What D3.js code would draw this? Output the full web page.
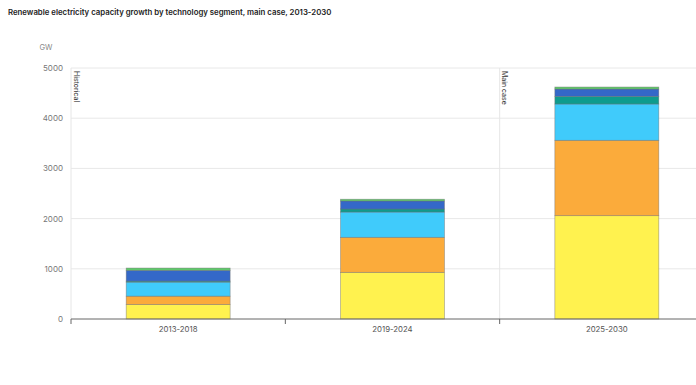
<!DOCTYPE html>
<html>
<head>
<meta charset="utf-8">
<script src="https://cdn.jsdelivr.net/npm/d3@7"></script>
<style>
  body { margin: 0; background: #fff; }
  svg { display: block; font-family: Inter, "Open Sans", sans-serif; }
</style>
</head>
<body>
<div id="chart"></div>
<script>
// periods on the x axis
const periods = ["2013-2018", "2019-2024", "2025-2030"];

// stacked segments, bottom to top (GW)
const segments = ["Segment 1", "Segment 2", "Segment 3", "Segment 4", "Segment 5", "Segment 6"];
const seg1 = [290, 930, 2058];
const seg2 = [165, 697, 1502];
const seg3 = [280, 504, 723];
const seg4 = [20, 60, 153];
const seg5 = [215, 160, 145];
const seg6 = [45, 35, 40];
const segColors = ["#fff24f", "#fbab3b", "#40cbfb", "#0e9b8d", "#3468c8", "#5fcb6b"];

const yTicks = [0, 1000, 2000, 3000, 4000, 5000];
const markers = [
  { label: "Historical", period: 0 },
  { label: "Main case", period: 2 }
];

const width = 696, height = 385;
const margin = { top: 68, left: 71, bottom: 66 };

const svg = d3.select("#chart").append("svg")
  .attr("width", width)
  .attr("height", height);

svg.append("text")
  .attr("x", 8).attr("y", 15)
  .attr("font-size", 7.8)
  .attr("font-weight", 600)
  .attr("fill", "#222")
  .text("Renewable electricity capacity growth by technology segment, main case, 2013-2030");

svg.append("text")
  .attr("x", 46).attr("y", 50)
  .attr("font-size", 7.5)
  .attr("text-anchor", "middle")
  .attr("fill", "#888")
  .text("GW");

// the plot runs past the right edge of the window, like the original
const x = d3.scaleBand()
  .domain(periods)
  .range([margin.left, 714])
  .paddingInner(0.515)
  .paddingOuter(0.2575);

const y = d3.scaleLinear()
  .domain([0, 5000])
  .range([height - margin.bottom, margin.top]);

// gridlines
svg.append("g")
  .selectAll("line")
  .data(yTicks.slice(1))
  .join("line")
  .attr("x1", margin.left).attr("x2", width)
  .attr("y1", d => y(d)).attr("y2", d => y(d))
  .attr("stroke", "#e8e8e8")
  .attr("stroke-width", 1);

// y tick labels
svg.append("g")
  .selectAll("text")
  .data(yTicks)
  .join("text")
  .attr("x", 63)
  .attr("y", d => y(d) + 3)
  .attr("text-anchor", "end")
  .attr("font-size", 8)
  .attr("fill", "#777")
  .text(d => d);

// period markers (vertical line + rotated label)
const step = x.step();
const bandStart = i => margin.left + i * step;
markers.forEach(m => {
  const mx = bandStart(m.period);
  svg.append("line")
    .attr("x1", mx).attr("x2", mx)
    .attr("y1", y(5000)).attr("y2", y(0))
    .attr("stroke", "#e6e6e6");
  svg.append("text")
    .attr("transform", `translate(${mx + 2.5},${y(5000) + 3}) rotate(90)`)
    .attr("font-size", 7)
    .attr("fill", "#333")
    .text(m.label);
});

// stack
const table = periods.map((p, i) => {
  const row = { period: p };
  [seg1, seg2, seg3, seg4, seg5, seg6].forEach((s, k) => row[segments[k]] = s[i]);
  return row;
});
const stacked = d3.stack().keys(segments)(table);

svg.append("g")
  .selectAll("g")
  .data(stacked)
  .join("g")
  .attr("fill", (d, i) => segColors[i])
  .selectAll("rect")
  .data(d => d)
  .join("rect")
  .attr("x", d => x(d.data.period))
  .attr("y", d => y(d[1]))
  .attr("width", x.bandwidth())
  .attr("height", d => y(d[0]) - y(d[1]))
  .attr("stroke", "#6f6f6f")
  .attr("stroke-opacity", 0.6)
  .attr("stroke-width", 0.7);

// x axis
const xAxis = svg.append("g")
  .attr("transform", `translate(0,${y(0)})`);
xAxis.append("line")
  .attr("x1", margin.left).attr("x2", width)
  .attr("stroke", "#666");
xAxis.selectAll(".tick")
  .data(d3.range(periods.length + 1))
  .join("line")
  .attr("x1", i => bandStart(i)).attr("x2", i => bandStart(i))
  .attr("y1", 0).attr("y2", 5)
  .attr("stroke", "#666");
xAxis.selectAll("text")
  .data(periods)
  .join("text")
  .attr("x", d => x(d) + x.bandwidth() / 2)
  .attr("y", 13)
  .attr("text-anchor", "middle")
  .attr("font-size", 7.8)
  .attr("fill", "#555")
  .text(d => d);
</script>
</body>
</html>
